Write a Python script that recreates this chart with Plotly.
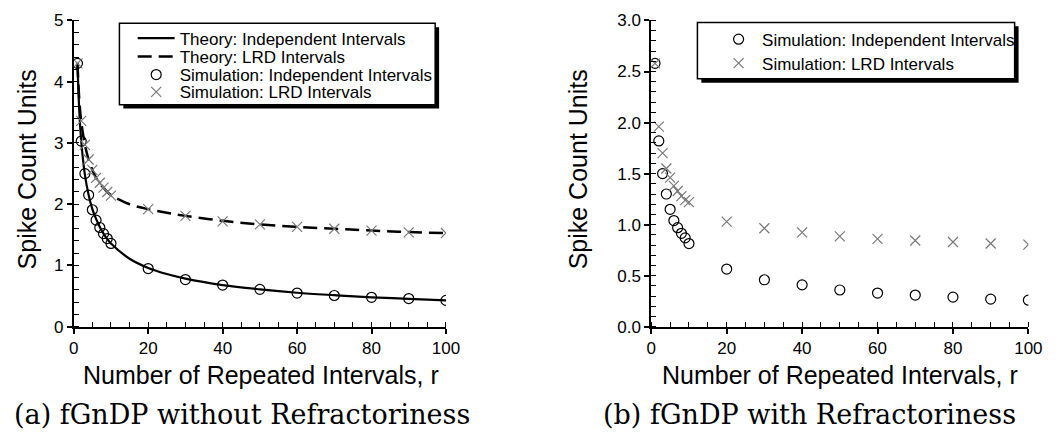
import plotly.graph_objects as go

# ---------------- data ----------------
r_sim = [1, 2, 3, 4, 5, 6, 7, 8, 9, 10, 20, 30, 40, 50, 60, 70, 80, 90, 100]

# (a) without refractoriness
a_sim_indep = [4.30, 3.03, 2.50, 2.15, 1.91, 1.74, 1.62, 1.52, 1.44, 1.36,
               0.95, 0.77, 0.68, 0.61, 0.55, 0.51, 0.48, 0.46, 0.43]
a_sim_lrd = [4.30, 3.36, 2.97, 2.73, 2.56, 2.43, 2.35, 2.27, 2.20, 2.14,
             1.92, 1.81, 1.72, 1.67, 1.63, 1.60, 1.57, 1.54, 1.53]

r_theory = [1, 1.5, 2, 3, 4, 5, 6, 7, 8, 9, 10, 15, 20, 25, 30, 40, 50, 60, 70, 80, 90, 100]
a_theory_indep = [4.30, 3.51, 3.04, 2.48, 2.15, 1.92, 1.76, 1.63, 1.52, 1.43, 1.36,
                  1.11, 0.96, 0.86, 0.785, 0.68, 0.61, 0.555, 0.515, 0.48, 0.455, 0.43]
a_theory_lrd = [4.30, 3.70, 3.36, 2.97, 2.73, 2.56, 2.43, 2.34, 2.27, 2.20, 2.15,
                2.00, 1.92, 1.86, 1.81, 1.73, 1.67, 1.63, 1.60, 1.57, 1.545, 1.53]

# (b) with refractoriness
b_sim_indep = [2.58, 1.82, 1.50, 1.30, 1.15, 1.04, 0.97, 0.915, 0.87, 0.815,
               0.565, 0.46, 0.41, 0.36, 0.33, 0.31, 0.29, 0.27, 0.26]
b_sim_lrd = [2.58, 1.96, 1.70, 1.55, 1.46, 1.38, 1.33, 1.28, 1.24, 1.22,
             1.03, 0.965, 0.925, 0.885, 0.86, 0.845, 0.83, 0.815, 0.805]

x_range = [0, 100]
x_dtick, x_minor = 20, 5
a_y_range, a_y_dtick, a_y_minor = [0, 5], 1, 0.2
b_y_range, b_y_dtick, b_y_minor = [0, 3], 0.5, 0.1

names = ["Theory: Independent Intervals", "Theory: LRD Intervals",
         "Simulation: Independent Intervals", "Simulation: LRD Intervals"]
x_title = "Number of Repeated Intervals, r"
y_title = "Spike Count Units"
captions = ["(a) fGnDP without Refractoriness", "(b) fGnDP with Refractoriness"]

# ---------------- figure ----------------
W, H = 1064, 442
SANS = "Liberation Sans, Arial, sans-serif"
SERIF = "DejaVu Serif, serif"
GREY = "#7a7a7a"

fig = go.Figure()

circ = dict(symbol="circle-open", size=10, color="black", line=dict(color="black", width=1.2))
xm = dict(symbol="x-thin-open", size=10, color=GREY, line=dict(color=GREY, width=1.2))

fig.add_trace(go.Scatter(x=r_theory, y=a_theory_indep, mode="lines", name=names[0],
                         line=dict(color="black", width=2.2, shape="spline"),
                         xaxis="x", yaxis="y", legend="legend"))
fig.add_trace(go.Scatter(x=r_theory, y=a_theory_lrd, mode="lines", name=names[1],
                         line=dict(color="black", width=2.5, dash="14px,7px", shape="spline"),
                         xaxis="x", yaxis="y", legend="legend2"))
fig.add_trace(go.Scatter(x=r_sim, y=a_sim_indep, mode="markers", name=names[2],
                         marker=circ, xaxis="x", yaxis="y", legend="legend3"))
fig.add_trace(go.Scatter(x=r_sim, y=a_sim_lrd, mode="markers", name=names[3],
                         marker=xm, xaxis="x", yaxis="y", legend="legend4"))

fig.add_trace(go.Scatter(x=r_sim, y=b_sim_indep, mode="markers", name=names[2],
                         marker=circ, xaxis="x2", yaxis="y2", legend="legend5"))
fig.add_trace(go.Scatter(x=r_sim, y=b_sim_lrd, mode="markers", name=names[3],
                         marker=xm, xaxis="x2", yaxis="y2", legend="legend6"))

dom_a = [70 / W, 449 / W]
dom_b = [658 / W, 1042 / W]
dom_y = [1 - 332 / H, 1 - 12 / H]

tickfont = dict(family=SANS, size=17, color="black")

def base_ax(domain, anchor, rng, dtick, minor, fmt=None):
    d = dict(domain=domain, anchor=anchor, range=rng, tickmode="linear", tick0=0,
             dtick=dtick, showline=True, linewidth=2, linecolor="black",
             ticks="outside", ticklen=5, tickwidth=1.5, tickcolor="black",
             showgrid=False, zeroline=False, tickfont=tickfont,
             minor=dict(tickmode="linear", tick0=0, dtick=minor, ticks="inside",
                        ticklen=5, tickwidth=1.2, tickcolor="black", showgrid=False))
    if fmt:
        d["tickformat"] = fmt
    return d

def inner_major(domain, anchor, rng, dtick, overlay):
    # second copy of the major ticks, drawn inside, so that major ticks cross the axis
    return dict(domain=domain, anchor=anchor, overlaying=overlay, range=rng,
                tickmode="linear", tick0=0, dtick=dtick, ticks="inside", ticklen=5,
                tickwidth=1.5, tickcolor="black", showticklabels=False,
                showline=False, showgrid=False, zeroline=False)

legfont = dict(family=SANS, size=17, color="black")

def row_legend(xpx, ypx):
    return dict(x=xpx / W, y=1 - ypx / H, xanchor="left", yanchor="middle",
                bgcolor="rgba(0,0,0,0)", borderwidth=0, font=legfont,
                itemwidth=37, tracegroupgap=0)

LX1 = 130   # legend row x (left panel)
LX2 = 723   # legend row x (right panel)
fig.update_layout(
    width=W, height=H, margin=dict(l=0, r=0, t=0, b=0),
    paper_bgcolor="white", plot_bgcolor="white",
    font=dict(family=SANS, color="black"),
    xaxis=base_ax(dom_a, "y", x_range, x_dtick, x_minor),
    yaxis=base_ax(dom_y, "x", a_y_range, a_y_dtick, a_y_minor),
    xaxis2=base_ax(dom_b, "y2", x_range, x_dtick, x_minor),
    yaxis2=base_ax(dom_y, "x2", b_y_range, b_y_dtick, b_y_minor, ".1f"),
    xaxis3=inner_major(dom_a, "y", x_range, x_dtick, "x"),
    yaxis3=inner_major(dom_y, "x", a_y_range, a_y_dtick, "y"),
    xaxis4=inner_major(dom_b, "y2", x_range, x_dtick, "x2"),
    yaxis4=inner_major(dom_y, "x2", b_y_range, b_y_dtick, "y2"),
    legend=row_legend(LX1, 31),
    legend2=row_legend(LX1, 50),
    legend3=row_legend(LX1, 69),
    legend4=row_legend(LX1, 87),
    legend5=row_legend(LX2, 32),
    legend6=row_legend(LX2, 57),
    showlegend=True,
)

# legend frames with drop shadows (paper coords)
def framed_box(x0, y0, x1, y1, off=4):
    fig.add_shape(type="rect", xref="paper", yref="paper",
                  x0=(x0 + off) / W, x1=(x1 + off) / W,
                  y0=1 - (y1 + off) / H, y1=1 - (y0 + off) / H,
                  fillcolor="black", line=dict(width=0), layer="above")
    fig.add_shape(type="rect", xref="paper", yref="paper",
                  x0=x0 / W, x1=x1 / W, y0=1 - y1 / H, y1=1 - y0 / H,
                  fillcolor="white", line=dict(color="black", width=1.5), layer="above")

framed_box(116.5, 15, 438, 100)
framed_box(705, 14, 1028, 73)

ann = []
title_font = dict(family=SANS, size=25, color="black")
for cx in [260.5, 850.5]:
    ann.append(dict(text=x_title, x=cx / W, y=1 - 382 / H, xref="paper", yref="paper",
                    xanchor="center", yanchor="middle", showarrow=False, font=title_font))
for cx in [22, 583]:
    ann.append(dict(text=y_title, x=cx / W, y=1 - 168 / H, xref="paper", yref="paper",
                    xanchor="center", yanchor="middle", showarrow=False, textangle=-90,
                    font=title_font))
for cx, txt in zip([241.5, 819], captions):
    ann.append(dict(text=txt, x=cx / W, y=1 - 424 / H, xref="paper", yref="paper",
                    xanchor="center", yanchor="middle", showarrow=False,
                    font=dict(family=SERIF, size=27, color="black")))
fig.update_layout(annotations=ann)

fig.write_html("out.html")
